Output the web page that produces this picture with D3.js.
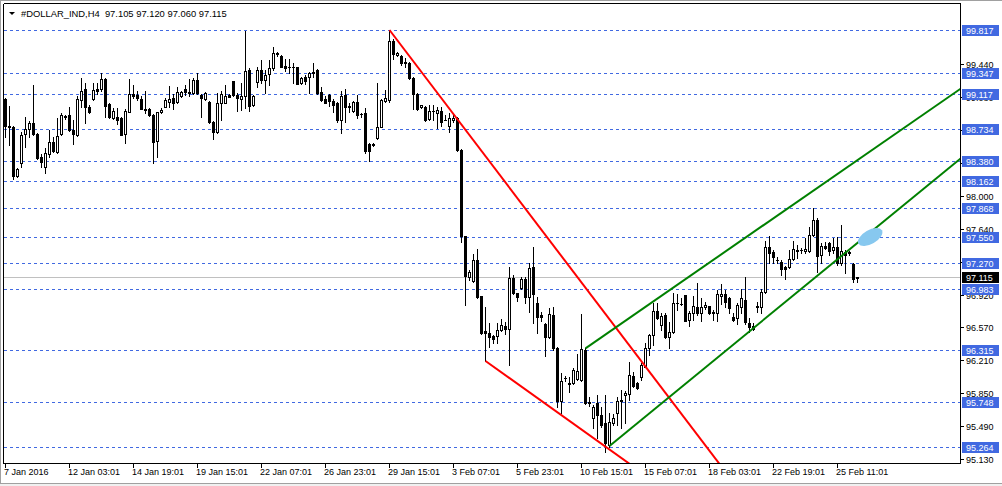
<!DOCTYPE html>
<html><head><meta charset="utf-8">
<script src="https://cdn.jsdelivr.net/npm/d3@7"></script>
<style>
html,body{margin:0;padding:0;background:#fff;overflow:hidden;}
svg{display:block;}
text{font-family:"Liberation Sans",Arial,sans-serif;}
</style></head><body>
<svg id="c" width="1002" height="486"></svg>
<script>
const symbol = "#DOLLAR_IND,H4";
const headerValues = ["97.105","97.120","97.060","97.115"];

const opens = [99.059,98.767,98.753,98.221,98.359,98.676,98.731,98.796,98.676,98.432,98.315,98.458,98.589,98.487,98.676,98.877,98.884,98.724,98.669,99.051,
99.168,98.979,99.062,99.172,99.175,99.277,99.004,98.858,98.869,98.855,98.680,98.924,99.117,99.106,99.066,98.949,98.957,98.891,98.607,98.920,
98.979,99.033,99.070,99.026,99.095,99.168,99.128,99.132,99.270,99.106,99.062,99.033,98.807,98.698,99.015,99.015,99.106,99.259,99.106,99.066,
99.095,99.379,98.997,99.252,99.379,99.270,99.336,99.398,99.554,99.532,99.423,99.416,99.416,99.409,99.234,99.299,99.299,99.350,99.379,99.143,
99.066,99.106,99.044,99.015,98.833,99.102,98.986,98.935,99.033,98.898,98.906,98.571,98.560,98.633,98.760,99.044,99.051,99.700,99.543,99.536,
99.471,99.452,99.296,99.117,98.971,98.971,98.840,98.935,98.913,98.935,98.833,98.767,98.833,98.851,98.505,97.565,97.117,97.073,97.303,96.909,
96.527,96.505,96.472,96.472,96.538,96.581,96.549,97.106,96.942,96.997,97.095,96.898,97.226,96.833,96.702,96.603,96.461,96.702,96.341,95.762,
96.013,95.958,95.958,96.002,95.991,96.319,95.751,95.576,95.740,95.609,95.521,95.281,95.521,95.630,95.773,95.827,95.838,96.035,95.958,96.024,
96.133,96.341,96.483,96.746,96.592,96.702,96.461,96.516,96.833,96.822,96.920,96.647,96.724,96.789,96.724,96.789,96.800,96.735,96.724,96.909,
96.931,96.888,96.680,96.669,96.789,96.866,96.614,96.581,96.800,96.789,96.953,97.445,97.390,97.303,97.281,97.226,97.226,97.314,97.412,97.412,
97.401,97.401,97.576,97.740,97.358,97.456,97.489,97.412,97.445,97.270,97.390,97.379,97.259,97.105];

const highs = [99.077,98.986,98.767,98.305,98.698,98.862,98.822,99.215,98.687,98.458,98.523,98.724,98.651,98.858,98.906,98.888,98.971,98.833,99.095,99.288,
99.234,98.993,99.241,99.234,99.343,99.288,99.015,98.968,98.960,98.869,98.949,99.277,99.215,99.154,99.095,99.154,98.968,98.898,98.924,98.960,
99.070,99.205,99.117,99.197,99.150,99.215,99.281,99.296,99.343,99.117,99.143,99.041,98.822,99.124,99.154,99.215,99.117,99.259,99.124,99.241,
99.810,99.405,99.106,99.416,99.489,99.379,99.489,99.627,99.580,99.543,99.496,99.496,99.460,99.416,99.307,99.325,99.361,99.460,99.387,99.197,
99.095,99.117,99.059,99.033,99.154,99.168,99.022,99.041,99.106,98.906,98.960,98.578,98.578,99.234,99.059,99.161,99.817,99.718,99.576,99.543,
99.507,99.471,99.307,99.124,99.000,98.986,98.997,98.997,98.971,98.971,98.888,98.906,98.888,98.869,98.516,97.570,97.194,97.369,97.423,96.909,
96.789,96.614,96.483,96.614,96.658,96.625,97.226,97.139,96.942,97.117,97.117,97.270,97.445,96.898,96.735,96.614,96.778,96.789,96.352,96.068,
96.035,96.024,96.122,96.275,96.713,96.341,95.805,95.718,95.827,95.696,95.827,95.630,95.619,95.805,95.882,95.871,96.188,96.079,95.969,96.177,
96.396,96.494,96.833,96.833,96.724,96.724,96.625,96.942,96.931,96.888,96.920,96.746,96.909,97.051,96.888,96.844,96.800,96.757,96.975,97.041,
96.975,96.898,96.724,96.833,96.986,97.117,96.669,96.614,96.844,96.986,97.511,97.565,97.412,97.336,97.303,97.237,97.412,97.510,97.467,97.434,
97.543,97.664,97.871,97.762,97.489,97.500,97.500,97.543,97.554,97.686,97.412,97.401,97.270,97.120];

const lows = [98.651,98.560,98.184,98.213,98.315,98.534,98.651,98.669,98.403,98.323,98.250,98.432,98.487,98.476,98.669,98.840,98.716,98.571,98.662,98.971,
98.804,98.906,99.051,99.117,99.154,98.862,98.851,98.840,98.789,98.669,98.578,98.917,99.077,99.051,98.949,98.906,98.877,98.359,98.432,98.906,
98.971,98.979,98.949,99.015,99.088,99.106,99.095,99.117,99.117,98.862,99.051,98.804,98.622,98.687,98.833,99.015,99.081,99.095,98.935,98.942,
98.960,98.935,98.986,99.197,99.234,99.132,99.215,99.379,99.532,99.409,99.372,99.343,99.234,99.223,99.226,99.223,99.124,99.299,99.117,99.044,
99.015,98.986,98.924,98.815,98.687,98.815,98.924,98.924,98.858,98.862,98.469,98.388,98.549,98.625,98.753,99.033,99.033,99.496,99.532,99.434,
99.416,99.277,98.949,98.942,98.964,98.826,98.833,98.833,98.742,98.767,98.833,98.705,98.815,98.498,97.500,96.811,97.084,97.063,96.888,96.494,
96.199,96.352,96.396,96.396,96.527,96.494,96.155,96.931,96.855,96.986,96.833,96.735,96.614,96.505,96.636,96.254,96.450,96.319,95.696,95.630,
95.980,95.860,95.947,95.991,95.980,95.729,95.707,95.466,95.357,95.477,95.204,95.259,95.499,95.499,95.466,95.521,95.773,95.915,95.893,95.991,
96.133,96.264,96.374,96.658,96.538,96.450,96.341,96.505,96.757,96.810,96.636,96.581,96.647,96.702,96.636,96.767,96.713,96.647,96.636,96.822,
96.789,96.724,96.636,96.603,96.724,96.603,96.516,96.538,96.735,96.724,96.942,97.270,97.270,97.270,97.139,97.095,97.215,97.303,97.325,97.379,
97.379,97.390,97.565,97.172,97.270,97.423,97.358,97.379,97.248,97.248,97.161,97.358,97.063,97.060];

const closes = [98.767,98.760,98.221,98.294,98.669,98.734,98.796,98.676,98.414,98.370,98.469,98.589,98.498,98.662,98.884,98.862,98.724,98.676,99.062,99.154,
98.979,98.920,99.161,99.154,99.277,98.990,98.869,98.935,98.833,98.669,98.935,99.113,99.095,99.077,98.957,98.942,98.888,98.596,98.917,98.942,
99.048,99.062,99.022,99.135,99.139,99.143,99.143,99.270,99.124,99.077,99.124,98.807,98.705,99.015,99.117,99.095,99.088,99.106,99.070,99.095,
99.369,98.986,99.095,99.379,99.270,99.325,99.398,99.562,99.562,99.416,99.398,99.409,99.412,99.226,99.288,99.263,99.350,99.361,99.124,99.051,
99.022,99.044,98.997,98.833,99.095,98.971,98.979,99.033,98.888,98.895,98.498,98.498,98.567,98.753,99.051,99.070,99.693,99.554,99.562,99.452,
99.452,99.288,99.117,98.949,98.993,98.833,98.935,98.931,98.942,98.815,98.836,98.851,98.858,98.505,97.565,97.131,97.172,97.303,96.898,96.505,
96.505,96.461,96.439,96.538,96.592,96.549,97.106,96.942,96.898,97.095,96.898,97.215,96.931,96.680,96.680,96.461,96.713,96.341,95.762,95.980,
96.010,95.947,96.101,96.090,96.330,95.740,95.740,95.696,95.609,95.499,95.302,95.532,95.576,95.762,95.762,95.849,96.046,95.926,95.904,96.155,
96.341,96.483,96.746,96.669,96.691,96.461,96.516,96.833,96.830,96.825,96.636,96.724,96.800,96.724,96.789,96.811,96.724,96.724,96.931,96.931,
96.844,96.778,96.647,96.811,96.888,96.625,96.571,96.549,96.789,96.953,97.445,97.379,97.336,97.300,97.205,97.205,97.314,97.423,97.401,97.408,
97.423,97.576,97.740,97.347,97.456,97.434,97.401,97.445,97.270,97.401,97.358,97.390,97.095,97.115];

const timeLabels = ["7 Jan 2016","12 Jan 03:01","14 Jan 19:01","19 Jan 15:01","22 Jan 07:01","26 Jan 23:01","29 Jan 15:01",
  "3 Feb 07:01","5 Feb 23:01","10 Feb 15:01","15 Feb 07:01","18 Feb 03:01","22 Feb 19:01","25 Feb 11:01"];
const timeLabelBars = [0,16,32,48,64,80,96,112,128,144,160,176,192,208];
const priceTicks = [99.440,99.080,98.720,98.360,98.000,97.640,97.280,96.920,96.570,96.210,95.850,95.490,95.130];
const priceTickLabels = ["99.440","99.080","98.720","98.360","98.000","97.640","97.280","96.920","96.570","96.210","95.850","95.490","95.130"];
const levels = [99.817,99.347,99.117,98.734,98.380,98.162,97.868,97.550,97.270,96.983,96.315,95.748,95.264];
const levelLabels = ["99.817","99.347","99.117","98.734","98.380","98.162","97.868","97.550","97.270","96.983","96.315","95.748","95.264"];
const currentPrice = 97.115;
const currentLabel = "97.115";
// trend lines: [bar index, price] anchor pairs (rays to the right)
const redLine1 = [[96,99.817],[150,96.712]];
const redLine2 = [[120,96.199],[151,95.231]];
const greenUpper = [[145,96.337],[213,98.395]];
const greenLower = [[151,95.270],[213,97.490]];
const markerEllipse = [216.3, 97.554];

const W = 1002, H = 486;
const plot = {left:4, top:4, right:960, bottom:463};
const x = d3.scaleLinear().domain([0,213]).range([5,857]);
const y = d3.scaleLinear().domain([95.264,99.817]).range([446.5,30]);
const py = v => Math.round(y(v)) + 0.5;
const px = i => Math.round(x(i)) + 0.5;

const svg = d3.select('#c');
svg.append('rect').attr('width',W).attr('height',H).attr('fill','#fff');
// window frame
svg.append('rect').attr('x',0).attr('y',483).attr('width',W).attr('height',3).attr('fill','#f0f0f0');
svg.append('line').attr('x1',0).attr('x2',W).attr('y1',483.5).attr('y2',483.5).attr('stroke','#a0a0a0');
svg.append('line').attr('x1',0).attr('x2',W).attr('y1',0.5).attr('y2',0.5).attr('stroke','#a0a0a0');
svg.append('line').attr('x1',0.5).attr('x2',0.5).attr('y1',0).attr('y2',483).attr('stroke','#a0a0a0');

svg.append('defs').append('clipPath').attr('id','clip').append('rect')
  .attr('x',plot.left).attr('y',plot.top).attr('width',plot.right-plot.left).attr('height',plot.bottom-plot.top);

const g = svg.append('g').attr('clip-path','url(#clip)');

// current price line
g.append('line').attr('x1',plot.left).attr('x2',plot.right).attr('y1',py(currentPrice)).attr('y2',py(currentPrice))
  .attr('stroke','#c0c0c0').attr('stroke-width',1);
// level lines
g.selectAll('line.lvl').data(levels).enter().append('line').attr('class','lvl')
  .attr('x1',plot.left).attr('x2',plot.right).attr('y1',d=>py(d)).attr('y2',d=>py(d))
  .attr('stroke','#4169e1').attr('stroke-width',1).attr('stroke-dasharray','3,3');

// candles
const idx = d3.range(opens.length);
const cg = g.append('g');
idx.forEach(i => {
  const o = opens[i], c = closes[i], h = highs[i], l = lows[i];
  const cx = Math.round(x(i));
  cg.append('line').attr('x1',cx+0.5).attr('x2',cx+0.5)
    .attr('y1',Math.round(y(h))).attr('y2',Math.round(y(l))+1).attr('stroke','#000');
  const top = Math.round(y(Math.max(o,c))), bot = Math.round(y(Math.min(o,c)));
  if (c < o || bot - top < 2) {
    cg.append('rect').attr('x',cx-1).attr('y',top).attr('width',3).attr('height',Math.max(1,bot-top+1)).attr('fill','#000');
  } else {
    cg.append('rect').attr('x',cx-0.5).attr('y',top+0.5).attr('width',2).attr('height',bot-top)
      .attr('fill','#fff').attr('stroke','#000').attr('stroke-width',1);
  }
});

// trend lines
function ray(pair, color) {
  const [p0,p1] = pair;
  const slope = (p1[1]-p0[1])/(p1[0]-p0[0]);
  const endI = 300;
  g.append('line').attr('x1',x(p0[0])+0.5).attr('y1',y(p0[1]))
    .attr('x2',x(endI)+0.5).attr('y2',y(p0[1]+slope*(endI-p0[0])))
    .attr('stroke',color).attr('stroke-width',2);
}
ray(redLine1,'#ff0000');
ray(redLine2,'#ff0000');
ray(greenUpper,'#008000');
ray(greenLower,'#008000');

// ellipse marker
g.append('ellipse').attr('cx',x(markerEllipse[0])).attr('cy',y(markerEllipse[1]))
  .attr('rx',13.5).attr('ry',7).attr('fill','#87c8ef')
  .attr('transform',`rotate(-30,${x(markerEllipse[0])},${y(markerEllipse[1])})`);

// axes frame
svg.append('line').attr('x1',plot.right+0.5).attr('x2',plot.right+0.5).attr('y1',plot.top).attr('y2',plot.bottom+1).attr('stroke','#000');
svg.append('line').attr('x1',plot.left).attr('x2',plot.right+1).attr('y1',plot.bottom+0.5).attr('y2',plot.bottom+0.5).attr('stroke','#000');
svg.append('line').attr('x1',plot.left-0.5).attr('x2',plot.left-0.5).attr('y1',plot.top).attr('y2',plot.bottom+1).attr('stroke','#000');
svg.append('line').attr('x1',plot.left).attr('x2',plot.right+1).attr('y1',plot.top-0.5).attr('y2',plot.top-0.5).attr('stroke','#000');

// right axis ticks and labels
const ra = svg.append('g');
priceTicks.forEach((v,k) => {
  ra.append('line').attr('x1',plot.right).attr('x2',plot.right+4).attr('y1',py(v)).attr('y2',py(v)).attr('stroke','#000');
  ra.append('text').attr('x',966).attr('y',py(v)+3.5).attr('font-size','9px').attr('fill','#000').text(priceTickLabels[k]);
});
// bottom axis ticks and labels
timeLabelBars.forEach((b,k) => {
  ra.append('line').attr('x1',px(b)).attr('x2',px(b)).attr('y1',plot.bottom).attr('y2',plot.bottom+5).attr('stroke','#000');
  ra.append('text').attr('x',Math.round(x(b))-1).attr('y',475).attr('font-size','9px').attr('fill','#000').text(timeLabels[k]);
});
// level labels
levels.forEach((v,k) => {
  const ly = Math.round(y(v));
  ra.append('rect').attr('x',962).attr('y',ly-5).attr('width',37).attr('height',11).attr('fill','#4169e1');
  ra.append('text').attr('x',966).attr('y',ly+4).attr('font-size','9px').attr('fill','#fff').text(levelLabels[k]);
});
// current price label
{
  const ly = Math.round(y(currentPrice));
  ra.append('rect').attr('x',962).attr('y',ly-5).attr('width',37).attr('height',11).attr('fill','#000');
  ra.append('text').attr('x',966).attr('y',ly+4).attr('font-size','9px').attr('fill','#fff').text(currentLabel);
}

// header
svg.append('path').attr('d','M9,12 L15,12 L12,15 Z').attr('fill','#000');
svg.append('text').attr('x',21).attr('y',16.5).attr('font-size','9.4px').attr('fill','#000')
  .style('white-space','pre').text(symbol + "  " + headerValues.join(' '));
</script>
</body></html>
